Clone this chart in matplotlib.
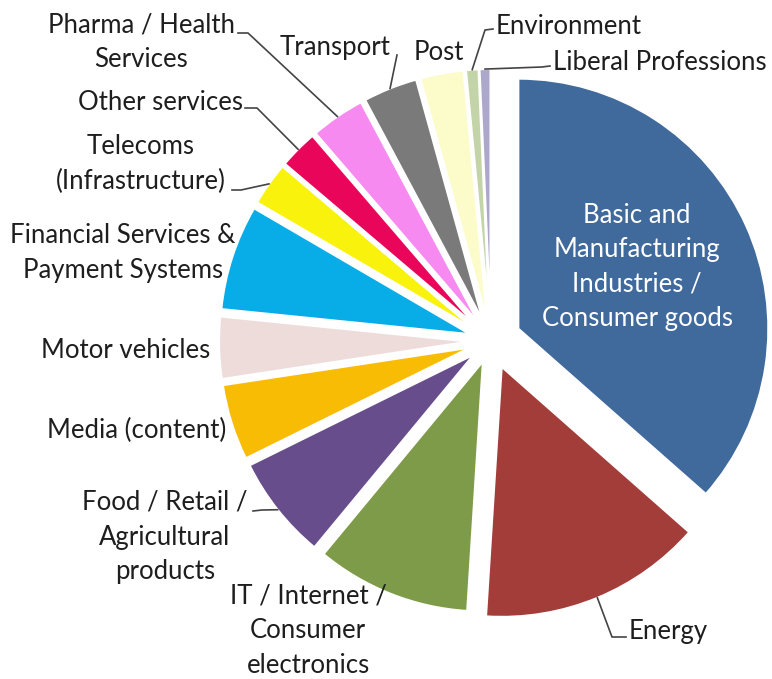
import matplotlib.pyplot as plt
import numpy as np

# sector shares (%), clockwise from 12 o'clock
sectors = [
    "Basic and\nManufacturing\nIndustries /\nConsumer goods",
    "Energy",
    "IT / Internet /\nConsumer\nelectronics",
    "Food / Retail /\nAgricultural\nproducts",
    "Media (content)",
    "Motor vehicles",
    "Financial Services &\nPayment Systems",
    "Telecoms\n(Infrastructure)",
    "Other services",
    "Pharma / Health\nServices",
    "Transport",
    "Post",
    "Environment",
    "Liberal Professions",
]
shares = [36.5, 14.5, 10.0, 6.7, 4.9, 4.0, 6.8, 2.8, 2.5, 3.5, 3.5, 2.8, 0.8, 0.7]

colors = ['#40699C', '#A33D3A', '#7D9B48', '#674D8C', '#F9BC05', '#EEDCDB',
          '#08ADE8', '#F8F20C', '#E8055A', '#F78AF0', '#7A7A7A', '#FCFCCB',
          '#C3D5A8', '#ACA8CC']

W, H = 772, 679
def py(y):
    return H - y

fig = plt.figure(figsize=(W / 100, H / 100), dpi=100)
ax = fig.add_axes([0, 0, 1, 1])

offsets = [30, 28, 22] + [22] * 11
wedges, _ = ax.pie(shares, colors=colors, startangle=90, counterclock=False,
                   explode=offsets, radius=250, center=(491, py(341)),
                   wedgeprops=dict(edgecolor='white', linewidth=1.5))
ax.set_xlim(0, W)
ax.set_ylim(0, H)
ax.set_aspect('equal')
ax.axis('off')

font = dict(family='Lato', fontsize=18.5, color='#1e1e1e', linespacing=1.48)

# label placement (pixel coords), ha
place = {
    0: (637, 267, 'center'),
    1: (629, 631, 'left'),
    2: (308, 631, 'center'),
    3: (165, 537, 'center'),
    4: (137, 430, 'center'),
    5: (126, 351, 'center'),
    6: (123, 253, 'center'),
    7: (141, 164, 'center'),
    8: (161, 102, 'center'),
    9: (141, 42, 'center'),
    10: (335, 48, 'center'),
    11: (439, 52, 'center'),
    12: (496, 27, 'left'),
    13: (553, 62, 'left'),
}

for i, name in enumerate(sectors):
    x, y, ha = place[i]
    kw = dict(font)
    if i == 0:
        kw['color'] = 'white'
    ax.text(x, py(y), name, ha=ha, va='center', multialignment='center', **kw)

# leader lines: label side points, then the slice edge
leaders = {
    1: [(626, 637), (612, 637)],
    3: [(253, 511), (262, 510)],
    7: [(232, 190), (241, 190)],
    8: [(245, 108), (257, 108)],
    9: [(238, 33), (248, 33)],
    10: [(397, 55)],
    12: [(493, 29), (485, 30)],
    13: [(550, 66), (542, 67)],
}
for i, pts in leaders.items():
    w = wedges[i]
    mid = np.deg2rad((w.theta1 + w.theta2) / 2)
    cx, cy = w.center
    end = (cx + w.r * np.cos(mid), cy + w.r * np.sin(mid))
    xs = [p[0] for p in pts] + [end[0]]
    ys = [py(p[1]) for p in pts] + [end[1]]
    ax.plot(xs, ys, color='#444444', lw=1.2)

fig.savefig('out.png', dpi=100)
